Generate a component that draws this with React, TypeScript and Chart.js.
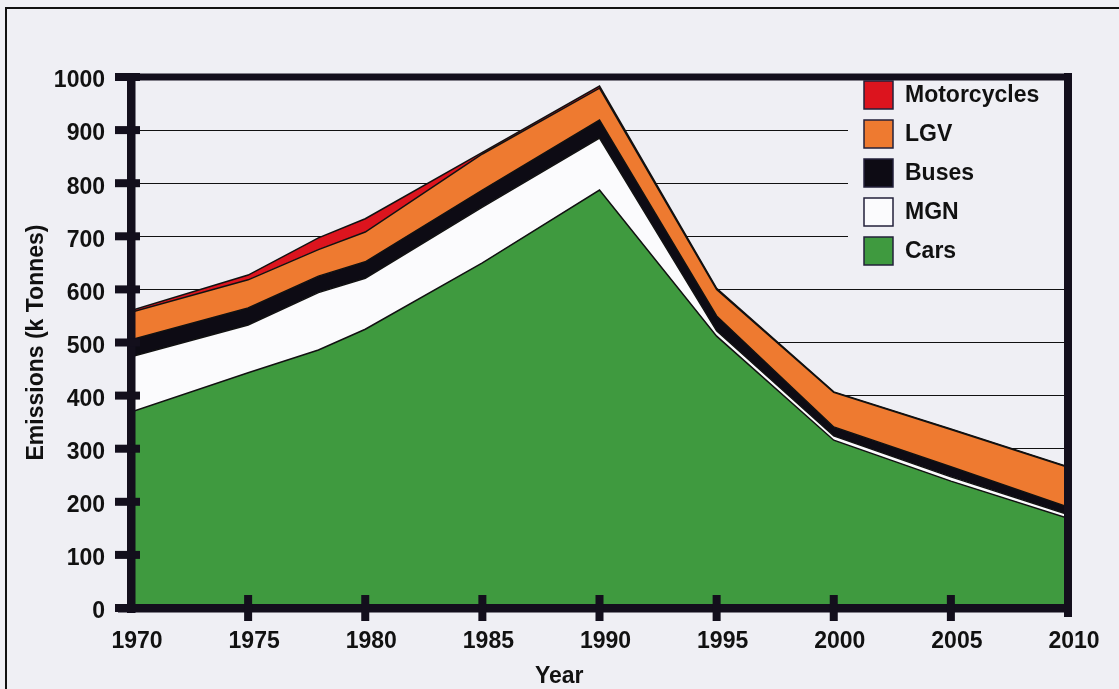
import { useEffect, useRef } from 'react';
import { Chart, registerables } from 'chart.js';

Chart.register(...registerables);

// ---- data ----
const years = [1970, 1975, 1978, 1980, 1985, 1990, 1995, 2000, 2005, 2010];
const cars = [369, 443, 486, 525, 650, 787, 512, 316, 239, 169];
const mgn = [104, 90, 108, 96, 105, 98, 10, 8, 8, 7];
const buses = [32, 32, 31, 31, 32, 34, 28, 17, 19, 14];
const lgv = [52, 53, 50, 56, 68, 60, 50, 65, 70, 75];
const motorcycles = [3, 9, 22, 25, 3, 4, 2, 1, 1, 1];

const seriesNames = ['Cars', 'MGN', 'Buses', 'LGV', 'Motorcycles'];
const seriesColors = ['#3f9a3f', '#fbfbfd', '#0d0b14', '#ee7a30', '#dc141e'];

const xTicks = [1970, 1975, 1980, 1985, 1990, 1995, 2000, 2005, 2010];
const xTickLabels = ['1970', '1975', '1980', '1985', '1990', '1995', '2000', '2005', '2010'];
const yTicks = [0, 100, 200, 300, 400, 500, 600, 700, 800, 900, 1000];
const yTickLabels = ['0', '100', '200', '300', '400', '500', '600', '700', '800', '900', '1000'];

const BG = '#efeff4';
const INK = '#130f1c';
const FONT_FAMILY = "'Liberation Sans', Arial, Helvetica, sans-serif";

const axisDecor = {
  id: 'axisDecor',
  afterDatasetsDraw(chart: any) {
    const { ctx, chartArea } = chart;
    const xs = chart.scales.x;
    const ys = chart.scales.y;
    const L = chartArea.left, R = chartArea.right, T = chartArea.top, B = chartArea.bottom;
    ctx.save();
    ctx.fillStyle = INK;
    // y axis
    ctx.fillRect(L - 4, T - 4, 8.5, B - T + 9);
    // x axis
    ctx.fillRect(L - 13, B - 4, R - L + 17, 8.5);
    // top border (1000 line)
    ctx.fillRect(L - 16, T - 3.5, R - L + 20, 7);
    // right border
    ctx.fillRect(R - 4, T - 4, 8, B - T + 13);
    // y tick marks
    yTicks.forEach((v) => {
      const p = ys.getPixelForValue(v);
      ctx.fillRect(L - 16, p - 4, 25, 8);
    });
    // x tick marks
    xTicks.slice(1, -1).forEach((v) => {
      const p = xs.getPixelForValue(v);
      ctx.fillRect(p - 4, B - 13, 8, 26);
    });
    ctx.restore();
  },
  afterDraw(chart: any) {
    const { ctx, chartArea } = chart;
    const L = chartArea.left, R = chartArea.right, T = chartArea.top, B = chartArea.bottom;
    ctx.save();
    // legend background (hides grid lines)
    ctx.fillStyle = BG;
    ctx.fillRect(R - 220, T + 4, 216, 188);
    const boxX = R - 204;
    const rowH = 39;
    const items = chart.data.datasets.map((d: any, i: number) => ({ label: d.label, color: seriesColors[i] })).reverse();
    ctx.font = `bold 23px ${FONT_FAMILY}`;
    ctx.textBaseline = 'middle';
    ctx.textAlign = 'left';
    items.forEach((it: any, i: number) => {
      const top = T + 4 + i * rowH;
      ctx.fillStyle = it.color;
      ctx.fillRect(boxX, top, 29, 28);
      ctx.strokeStyle = '#23203a';
      ctx.lineWidth = 1.5;
      ctx.strokeRect(boxX, top, 29, 28);
      ctx.fillStyle = '#111';
      ctx.fillText(it.label, boxX + 41, top + 15);
    });
    // x axis title
    ctx.textAlign = 'center';
    ctx.fillText('Year', L + (R - L) * 0.457, B + 69);
    ctx.restore();
  },
};

export default function App() {
  const ref = useRef<HTMLCanvasElement>(null);

  useEffect(() => {
    document.body.style.margin = '0';
    document.body.style.background = BG;
    const seriesValues = [cars, mgn, buses, lgv, motorcycles];
    const font = { family: FONT_FAMILY, size: 23, weight: 'bold' as const };
    const chart = new Chart(ref.current as HTMLCanvasElement, {
      type: 'line',
      data: {
        datasets: seriesValues.map((vals, i) => ({
          label: seriesNames[i],
          data: years.map((yr, j) => ({ x: yr, y: vals[j] })),
          backgroundColor: seriesColors[i],
          borderColor: '#111',
          borderWidth: 1.5,
          fill: i === 0 ? 'origin' : '-1',
          pointRadius: 0,
          tension: 0,
        })),
      },
      options: {
        animation: false,
        responsive: false,
        devicePixelRatio: 1,
        layout: { padding: { top: 77, right: 51, left: 0, bottom: 0 } },
        plugins: { legend: { display: false }, tooltip: { enabled: false } },
        scales: {
          x: {
            type: 'linear',
            min: 1970,
            max: 2010,
            afterFit: (s: any) => { s.height = 81; },
            grid: { display: false, drawTicks: false },
            border: { display: false },
            ticks: {
              stepSize: 5,
              autoSkip: false,
              maxRotation: 0,
              padding: 20,
              labelOffset: (c: any) => (c && c.index === 0 ? -17 : 6),
              color: '#111',
              font,
              callback: (v: any) => {
                const i = xTicks.indexOf(Number(v));
                return i >= 0 ? xTickLabels[i] : '';
              },
            },
          },
          y: {
            stacked: true,
            min: 0,
            max: 1000,
            afterFit: (s: any) => { s.width = 131; },
            grid: { color: '#111', lineWidth: 1, drawTicks: false },
            border: { display: false },
            ticks: {
              stepSize: 100,
              padding: 26,
              labelOffset: 4,
              color: '#111',
              font,
              callback: (v: any) => {
                const i = yTicks.indexOf(Number(v));
                return i >= 0 ? yTickLabels[i] : '';
              },
            },
            title: {
              display: true,
              text: 'Emissions (k Tonnes)',
              color: '#111',
              font,
              padding: { top: 23, bottom: 0 },
            },
          },
        },
      },
      plugins: [axisDecor],
    });
    return () => chart.destroy();
  }, []);

  return (
    <div style={{ position: 'relative', width: 1119, height: 689, background: BG, overflow: 'hidden' }}>
      <div
        style={{
          position: 'absolute',
          left: 5,
          top: 7,
          right: -10,
          bottom: -10,
          borderLeft: '2px solid #111',
          borderTop: '2px solid #111',
        }}
      />
      <canvas
        ref={ref}
        width={1119}
        height={689}
        style={{ position: 'absolute', left: 0, top: 0, width: 1119, height: 689 }}
      />
    </div>
  );
}
